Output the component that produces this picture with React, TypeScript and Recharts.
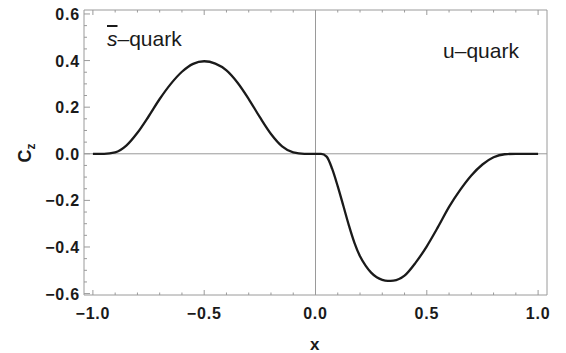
import { LineChart, Line, XAxis, YAxis, ReferenceLine } from 'recharts'

const xs = [
  -1.0, -0.95, -0.9, -0.85, -0.8, -0.75, -0.7, -0.65, -0.6, -0.55, -0.5, -0.45, -0.4, -0.35, -0.3,
  -0.25, -0.2, -0.15, -0.1, -0.05, 0.0, 0.025, 0.05, 0.075, 0.1, 0.125, 0.15, 0.175, 0.2, 0.225,
  0.25, 0.275, 0.3, 0.325, 0.35, 0.4, 0.45, 0.5, 0.55, 0.6, 0.65, 0.7, 0.75, 0.8, 0.85, 0.9, 0.95, 1.0,
]
const cz = [
  0, 0, 0.006, 0.035, 0.09, 0.16, 0.235, 0.3, 0.352, 0.386, 0.397, 0.387, 0.358, 0.305, 0.235,
  0.157, 0.085, 0.032, 0.006, 0, 0, 0, -0.012, -0.065, -0.14, -0.223, -0.307, -0.382, -0.44, -0.48,
  -0.51, -0.53, -0.541, -0.545, -0.544, -0.523, -0.467, -0.397, -0.315, -0.228, -0.155, -0.093, -0.046, -0.015, -0.002, 0, 0, 0,
]

const xTicks = [-1.0, -0.9, -0.8, -0.7, -0.6, -0.5, -0.4, -0.3, -0.2, -0.1, 0.0, 0.1, 0.2, 0.3, 0.4, 0.5, 0.6, 0.7, 0.8, 0.9, 1.0]
const xMajor = [-1.0, -0.5, 0.0, 0.5, 1.0]
const yTicks = [
  -0.6, -0.55, -0.5, -0.45, -0.4, -0.35, -0.3, -0.25, -0.2, -0.15, -0.1, -0.05, 0,
  0.05, 0.1, 0.15, 0.2, 0.25, 0.3, 0.35, 0.4, 0.45, 0.5, 0.55, 0.6,
]
const yMajor = [-0.6, -0.4, -0.2, 0.0, 0.2, 0.4, 0.6]

const data = xs.map((x, i) => ({ x, cz: cz[i] }))

const FRAME = '#9a9a9a'
const FONT = '"Liberation Sans", Arial, sans-serif'

const isMajor = (list: number[], v: number) => list.some(m => Math.abs(m - v) < 1e-6)
const fmt = (v: number) => (v < -1e-9 ? '\u2212' : '') + Math.abs(v).toFixed(1)

function XTick(props: any) {
  const { x, y, payload, side } = props
  const major = isMajor(xMajor, payload.value)
  const len = major ? 5 : 2.5
  const dir = side === 'top' ? 1 : -1
  return (
    <g>
      <line x1={x} x2={x} y1={y} y2={y + dir * len} stroke={FRAME} strokeWidth={1} />
      {side !== 'top' && major && (
        <text x={x} y={y + 24} textAnchor="middle" fontFamily={FONT} fontWeight="bold" fontSize={16} letterSpacing={0.8} fill="#1a1a1a">
          {fmt(payload.value)}
        </text>
      )}
    </g>
  )
}

function YTick(props: any) {
  const { x, y, payload, side } = props
  const major = isMajor(yMajor, payload.value)
  const len = major ? 6 : 3
  const dir = side === 'right' ? -1 : 1
  return (
    <g>
      <line x1={x} x2={x + dir * len} y1={y} y2={y} stroke={FRAME} strokeWidth={1} />
      {side !== 'right' && major && (
        <text x={x - 4} y={y + 6} textAnchor="end" fontFamily={FONT} fontWeight="bold" fontSize={16} letterSpacing={0.8} fill="#1a1a1a">
          {fmt(payload.value)}
        </text>
      )}
    </g>
  )
}

export default function App() {
  return (
    <div style={{ position: 'absolute', left: 0, top: 0, width: 566, height: 353, background: '#fff', fontFamily: FONT }}>
      <LineChart width={566} height={353} data={data} margin={{ top: 9, right: 18, bottom: 57, left: 24 }}>
        <XAxis
          xAxisId="b" dataKey="x" type="number" domain={[-1.04, 1.04]} ticks={xTicks} interval={0}
          height={1} tickSize={0} tickMargin={0} tickLine={false} stroke={FRAME}
          tick={<XTick side="bottom" />}
        />
        <XAxis
          xAxisId="t" orientation="top" dataKey="x" type="number" domain={[-1.04, 1.04]} ticks={xTicks} interval={0}
          height={1} tickSize={0} tickMargin={0} tickLine={false} stroke={FRAME}
          tick={<XTick side="top" />}
        />
        <YAxis
          yAxisId="l" type="number" domain={[-0.606, 0.617]} ticks={yTicks} interval={0}
          width={60} tickSize={0} tickMargin={0} tickLine={false} stroke={FRAME}
          tick={<YTick side="left" />}
        />
        <YAxis
          yAxisId="r" orientation="right" type="number" domain={[-0.606, 0.617]} ticks={yTicks} interval={0}
          width={1} tickSize={0} tickMargin={0} tickLine={false} stroke={FRAME}
          tick={<YTick side="right" />}
        />
        <ReferenceLine xAxisId="b" yAxisId="l" y={0} stroke={FRAME} strokeWidth={1} />
        <ReferenceLine xAxisId="b" yAxisId="l" x={0} stroke={FRAME} strokeWidth={1} />
        <Line
          xAxisId="b" yAxisId="l" dataKey="cz" type="monotone" stroke="#1a1a1a" strokeWidth={2.3}
          dot={false} isAnimationActive={false}
        />
      </LineChart>
      <div style={{ position: 'absolute', left: 107, top: 27, fontSize: 21, color: '#1a1a1a', whiteSpace: 'nowrap' }}>
        <span style={{ fontStyle: 'italic', textDecoration: 'overline' }}>s</span>{'\u2013'}quark
      </div>
      <div style={{ position: 'absolute', left: 443, top: 39, fontSize: 21, color: '#1a1a1a', whiteSpace: 'nowrap' }}>
        u{'\u2013'}quark
      </div>
      <div style={{ position: 'absolute', left: 310, top: 335, fontSize: 17, fontWeight: 'bold', color: '#1a1a1a' }}>x</div>
      <svg width={40} height={40} style={{ position: 'absolute', left: 2, top: 133 }}>
        <text transform="translate(29 20) rotate(-90)" textAnchor="middle" fontFamily={FONT} fontWeight="bold" fontSize={18} fill="#1a1a1a">
          C<tspan fontSize={12} dy={4}>z</tspan>
        </text>
      </svg>
    </div>
  )
}
